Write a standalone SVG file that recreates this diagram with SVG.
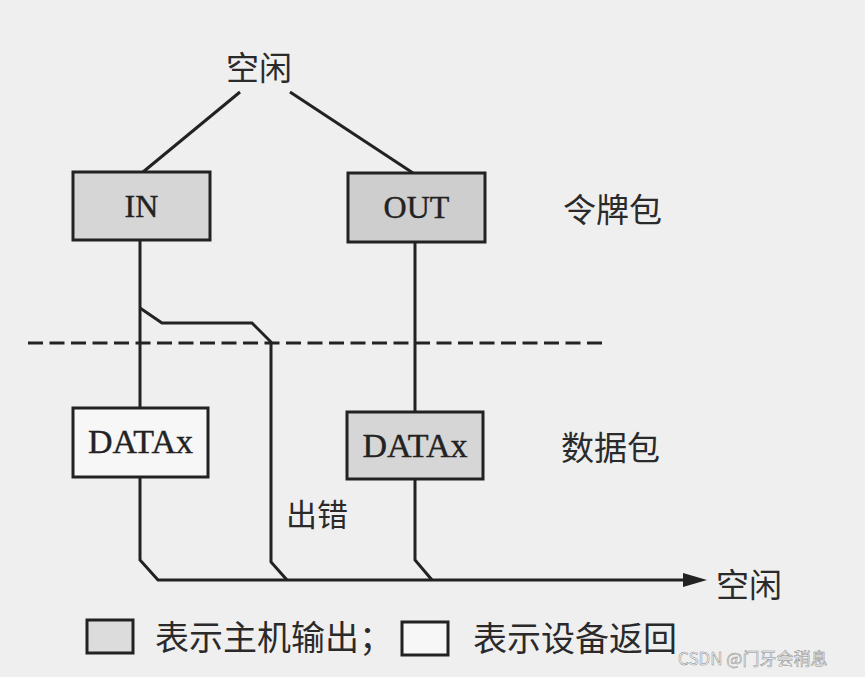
<svg xmlns="http://www.w3.org/2000/svg" width="865" height="677" viewBox="0 0 865 677">
  <style>
    .box { stroke: #222; stroke-width: 3; }
    .host { fill: #d6d6d6; }
    .dev { fill: #f7f7f7; }
    .lat { font-family: "Liberation Serif", "Times New Roman", serif; font-size: 33px; fill: #222; stroke: #222; stroke-width: 0.4; text-anchor: middle; }
    .cjk { font-family: "Noto Sans CJK SC", "Noto Sans", sans-serif; font-size: 33px; fill: #2a2a2a; }
    .wire { fill: none; stroke: #222; stroke-width: 3; stroke-linejoin: miter; }
    .dash { fill: none; stroke: #222; stroke-width: 3.2; stroke-dasharray: 15 6.5; }
  </style>
  <defs>
    <marker id="arrow" markerUnits="userSpaceOnUse" markerWidth="24" markerHeight="14" viewBox="0 0 24 14" refX="7" refY="7" orient="auto">
      <path d="M0,0 L24,7 L0,14 Z" fill="#222"/>
    </marker>
  </defs>
  <rect width="865" height="677" fill="#efefef"/>

  <g id="connectors">
    <path class="wire" d="M240,92 L143,172"/>
    <path class="wire" d="M290,92 L413,173"/>
    <path class="wire" d="M140,240 V408"/>
    <path class="wire" d="M415,242 V412"/>
    <path class="wire" d="M140,308 L162,323 H252 L271,342 V562 L287,580"/>
    <path class="wire" d="M140,477 V560 L158,580 H690" marker-end="url(#arrow)"/>
    <path class="wire" d="M415,479 V560 L432,580"/>
    <path class="dash" d="M28,343 H605"/>
  </g>

  <g id="idle-top">
    <text class="cjk" x="226" y="80">空闲</text>
  </g>
  <g id="in-token">
    <rect class="box host" x="73" y="172" width="137" height="68"/>
    <text class="lat" x="141.5" y="217" style="font-size:32px">IN</text>
  </g>
  <g id="out-token">
    <rect class="box host" x="348" y="173" width="137" height="69" style="fill:#cecece"/>
    <text class="lat" x="416.5" y="218" style="font-size:32px">OUT</text>
  </g>
  <g id="label-token">
    <text class="cjk" x="563" y="222">令牌包</text>
  </g>
  <g id="in-data">
    <rect class="box dev" x="73" y="408" width="135" height="69"/>
    <text class="lat" x="140.5" y="453" style="font-size:34px">DATAx</text>
  </g>
  <g id="out-data">
    <rect class="box host" x="347" y="412" width="136" height="67"/>
    <text class="lat" x="415" y="457" style="font-size:34px">DATAx</text>
  </g>
  <g id="label-data">
    <text class="cjk" x="561" y="460">数据包</text>
  </g>
  <g id="label-error">
    <text class="cjk" x="286" y="526" style="font-size:31px">出错</text>
  </g>
  <g id="idle-bottom">
    <text class="cjk" x="716" y="597">空闲</text>
  </g>
  <g id="legend">
    <rect class="box host" x="87" y="620" width="46" height="33" style="fill:#dcdcdc"/>
    <text class="cjk" x="155" y="650" style="font-size:34px">表示主机输出；</text>
    <rect class="box dev" x="402" y="622" width="46" height="33"/>
    <text class="cjk" x="473" y="651" style="font-size:34px">表示设备返回</text>
  </g>
  <g id="watermark">
    <text x="678" y="665" style="font-family:'Noto Sans CJK SC','Noto Sans',sans-serif;font-size:17px;fill:#fbfbfb;stroke:#888;stroke-width:0.5">CSDN @门牙会稍息</text>
  </g>
</svg>
